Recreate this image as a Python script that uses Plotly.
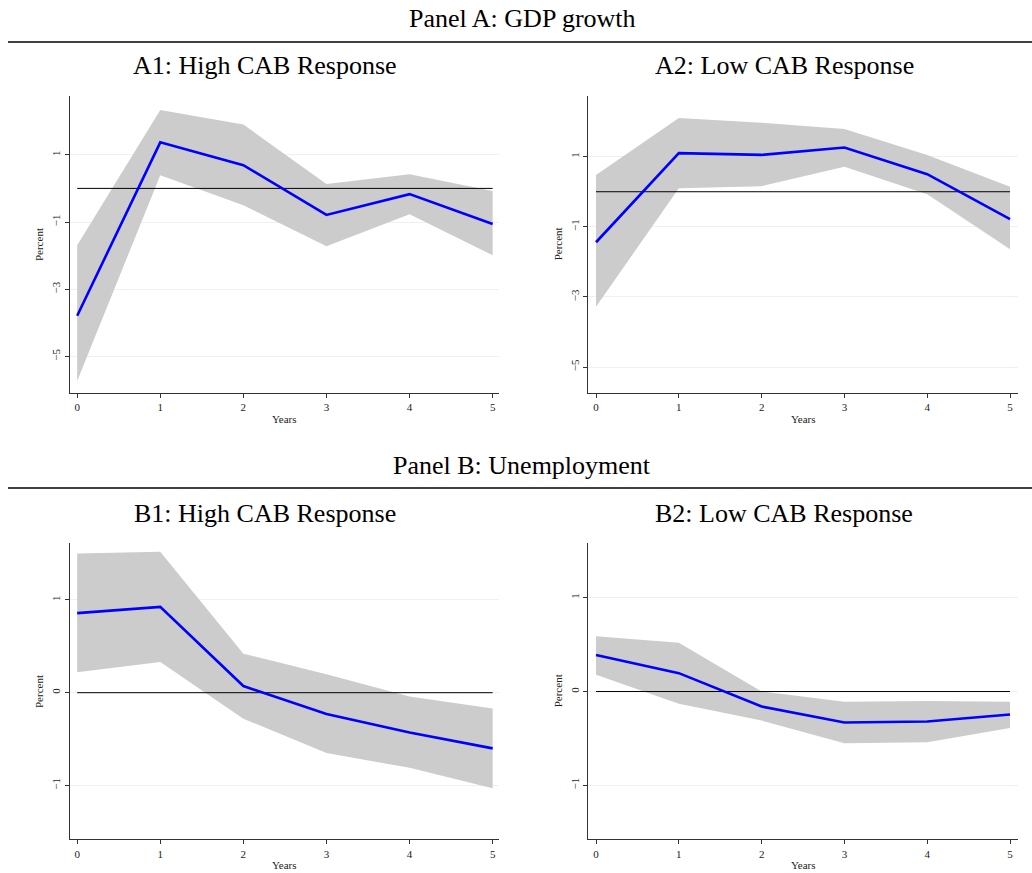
import plotly.graph_objects as go

years = [0, 1, 2, 3, 4, 5]

# Panel A: GDP growth
a1_irf = [-3.79, 1.37, 0.69, -0.79, -0.17, -1.06]
a1_upper = [-1.69, 2.33, 1.90, 0.13, 0.42, -0.08]
a1_lower = [-5.73, 0.39, -0.50, -1.72, -0.77, -1.99]

a2_irf = [-1.44, 1.10, 1.05, 1.26, 0.50, -0.78]
a2_upper = [0.48, 2.10, 1.97, 1.79, 1.05, 0.14]
a2_lower = [-3.28, 0.10, 0.16, 0.71, -0.07, -1.64]

# Panel B: Unemployment
b1_irf = [0.857, 0.925, 0.072, -0.23, -0.43, -0.60]
b1_upper = [1.50, 1.52, 0.42, 0.20, -0.04, -0.17]
b1_lower = [0.22, 0.33, -0.28, -0.65, -0.81, -1.03]

b2_irf = [0.39, 0.196, -0.16, -0.33, -0.32, -0.245]
b2_upper = [0.59, 0.52, 0.0, -0.11, -0.10, -0.11]
b2_lower = [0.18, -0.13, -0.31, -0.55, -0.54, -0.39]

ticks_a = [-5, -3, -1, 1]
ticks_b = [-1, 0, 1]

panel_titles = ["Panel A: GDP growth", "Panel B: Unemployment"]
sub_titles = ["A1: High CAB Response", "A2: Low CAB Response",
              "B1: High CAB Response", "B2: Low CAB Response"]

W, H = 1032, 873
FONT = "Liberation Serif, Times New Roman, serif"

fig = go.Figure()

panels = [
    dict(irf=a1_irf, up=a1_upper, lo=a1_lower, ticks=ticks_a,
         xpx=(69.7, 499.3), ypx=(96, 392.7), xr=[-0.09, 5.08], yr=[-6.08, 2.75]),
    dict(irf=a2_irf, up=a2_upper, lo=a2_lower, ticks=ticks_a,
         xpx=(588, 1018.3), ypx=(96, 392.7), xr=[-0.097, 5.10], yr=[-5.73, 2.73]),
    dict(irf=b1_irf, up=b1_upper, lo=b1_lower, ticks=ticks_b,
         xpx=(69.7, 499.3), ypx=(543.3, 839.3), xr=[-0.09, 5.08], yr=[-1.58, 1.61]),
    dict(irf=b2_irf, up=b2_upper, lo=b2_lower, ticks=ticks_b,
         xpx=(588, 1018.3), ypx=(543.3, 839.3), xr=[-0.097, 5.10], yr=[-1.575, 1.58]),
]

layout = {}
annotations = []
for i, p in enumerate(panels):
    n = i + 1
    xa = "x" if n == 1 else f"x{n}"
    ya = "y" if n == 1 else f"y{n}"
    fig.add_trace(go.Scatter(
        x=years + years[::-1], y=p["up"] + p["lo"][::-1],
        fill="toself", fillcolor="#cccccc", line=dict(width=0),
        mode="lines", hoverinfo="skip", showlegend=False, xaxis=xa, yaxis=ya))
    fig.add_trace(go.Scatter(
        x=[years[0], years[-1]], y=[0, 0], mode="lines",
        line=dict(color="black", width=1), showlegend=False, xaxis=xa, yaxis=ya))
    fig.add_trace(go.Scatter(
        x=years, y=p["irf"], mode="lines",
        line=dict(color="#0000ff", width=2.6), showlegend=False, xaxis=xa, yaxis=ya))

    x0, x1 = p["xpx"]
    yt, yb = p["ypx"]
    xkey = "xaxis" if n == 1 else f"xaxis{n}"
    ykey = "yaxis" if n == 1 else f"yaxis{n}"
    layout[xkey] = dict(
        domain=[x0 / W, x1 / W], range=p["xr"], anchor=ya,
        tickvals=years, ticks="outside", ticklen=4, tickcolor="#333",
        showline=True, linecolor="#333", linewidth=1.2, showgrid=False,
        zeroline=False, tickfont=dict(family=FONT, size=11, color="#222"))
    layout[ykey] = dict(
        domain=[1 - yb / H, 1 - yt / H], range=p["yr"], anchor=xa,
        tickvals=p["ticks"], ticks="outside", ticklen=4, tickcolor="#333",
        tickangle=-90, showline=True, linecolor="#333", linewidth=1.2,
        showgrid=True, gridcolor="#eaf2f3", gridwidth=1, zeroline=False,
        tickfont=dict(family=FONT, size=11, color="#222"))

    annotations.append(dict(
        text="Percent", x=(x0 - 30) / W, y=1 - (yt + yb) / 2 / H,
        xref="paper", yref="paper", showarrow=False, textangle=-90,
        font=dict(family=FONT, size=11, color="#222"),
        xanchor="center", yanchor="middle"))
    annotations.append(dict(
        text="Years", x=(x0 + x1) / 2 / W, y=1 - (yb + 26) / H,
        xref="paper", yref="paper", showarrow=False,
        font=dict(family=FONT, size=11, color="#222"),
        xanchor="center", yanchor="middle"))
    annotations.append(dict(
        text=sub_titles[i], x=(265 if n in (1, 3) else 784) / W,
        y=1 - (yt - 30) / H, xref="paper", yref="paper", showarrow=False,
        font=dict(family=FONT, size=26, color="black"),
        xanchor="center", yanchor="middle"))

for j, (title, ty) in enumerate(zip(panel_titles, [18, 465])):
    annotations.append(dict(
        text=title, x=522 / W, y=1 - ty / H, xref="paper", yref="paper",
        showarrow=False, font=dict(family=FONT, size=26, color="black"),
        xanchor="center", yanchor="middle"))

shapes = [
    dict(type="line", xref="paper", yref="paper", x0=8 / W, x1=1,
         y0=1 - 42 / H, y1=1 - 42 / H, line=dict(color="black", width=1.5)),
    dict(type="line", xref="paper", yref="paper", x0=8 / W, x1=1,
         y0=1 - 488 / H, y1=1 - 488 / H, line=dict(color="black", width=1.5)),
]

fig.update_layout(
    width=W, height=H, margin=dict(l=0, r=0, t=0, b=0),
    paper_bgcolor="white", plot_bgcolor="white",
    annotations=annotations, shapes=shapes, **layout)

fig.write_html("out.html")
